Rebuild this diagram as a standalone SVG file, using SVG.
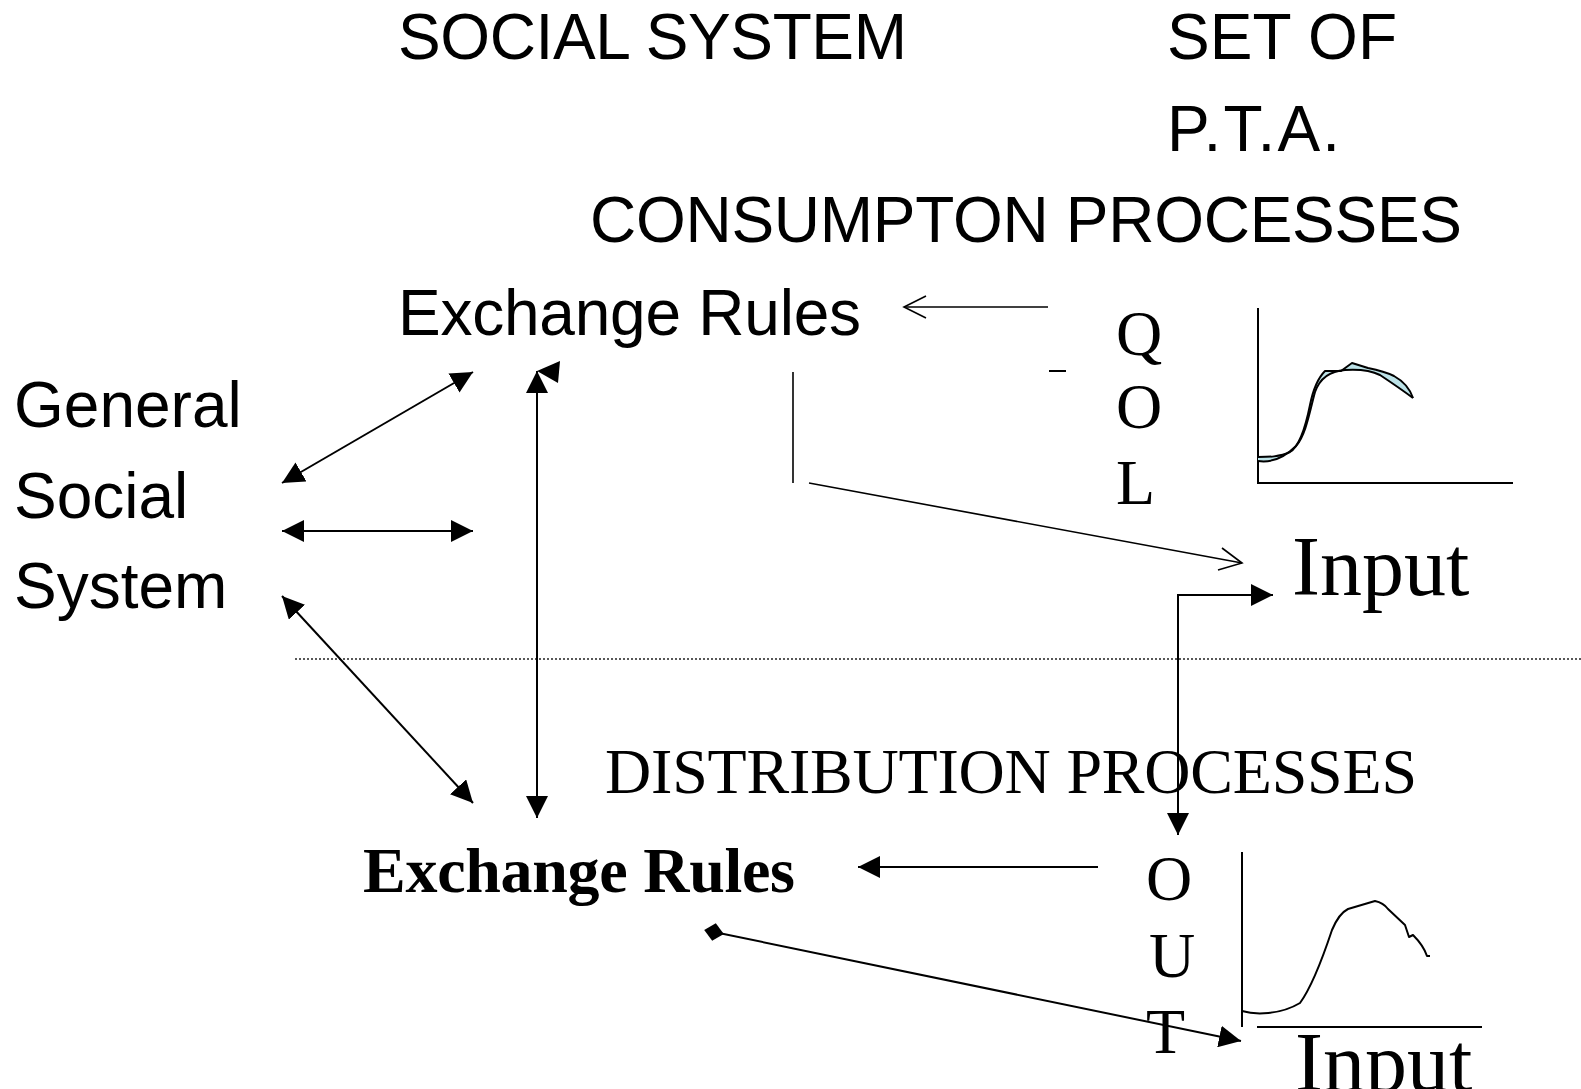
<svg xmlns="http://www.w3.org/2000/svg" width="1581" height="1089" viewBox="0 0 1581 1089">
<style>
.sans{font-family:"Liberation Sans",Arial,sans-serif;font-size:64px;fill:#000}
.serif{font-family:"Liberation Serif","Times New Roman",serif;fill:#000}
.ln{stroke:#000;stroke-width:2;fill:none}
.thin{stroke:#000;stroke-width:1.6;fill:none}
.curve{stroke:#000;stroke-width:2;fill:none;stroke-linejoin:round}
</style>
<defs>
<marker id="tri" markerUnits="userSpaceOnUse" markerWidth="22" markerHeight="22" viewBox="0 0 20 20" refX="20" refY="10" orient="auto-start-reverse">
<path d="M0,0 L20,10 L0,20 Z" fill="#000"/>
</marker>
<marker id="dia" markerUnits="userSpaceOnUse" markerWidth="20" markerHeight="20" viewBox="0 0 20 20" refX="10" refY="10" orient="auto">
<path d="M0,10 L10,1 L20,10 L10,19 Z" fill="#000"/>
</marker>
</defs>

<g id="title-social-system"><text class="sans" x="398" y="59" textLength="509">SOCIAL SYSTEM</text></g>
<g id="title-set-of-pta"><text class="sans" x="1167" y="59">SET OF</text><text class="sans" x="1167" y="151" textLength="173">P.T.A.</text></g>
<g id="consumption-processes"><text class="sans" x="590" y="242" textLength="872">CONSUMPTON PROCESSES</text></g>
<g id="exchange-rules-top"><text class="sans" x="398" y="335" textLength="463">Exchange Rules</text></g>
<g id="general-social-system">
<text class="sans" x="14" y="427">General</text>
<text class="sans" x="14" y="518">Social</text>
<text class="sans" x="14" y="608">System</text>
</g>

<g id="qol-graph">
<text class="serif" font-size="64" x="1116" y="355">Q</text>
<text class="serif" font-size="64" x="1116" y="428">O</text>
<text class="serif" font-size="64" x="1116" y="504">L</text>
<path class="ln" d="M1258,308 L1258,483 L1513,483"/>
<path d="M1258,461 C1272,463 1285,457 1296,446 C1306,435 1310,410 1315,392 C1320,378 1330,371 1345,370 C1360,369 1372,371 1380,375 C1392,383 1405,392 1413,398 C1410,389 1403,381 1394,376 C1386,372 1378,370 1368,368 L1352,363 L1341,371 L1325,371 C1318,378 1313,390 1310,405 C1306,425 1300,446 1290,452 C1280,457 1268,457 1258,457 Z" fill="#bde3e8" stroke="none"/>
<path class="curve" d="M1258,461 C1272,463 1285,457 1296,446 C1306,435 1310,410 1315,392 C1320,378 1330,371 1345,370 C1360,369 1372,371 1380,375 C1392,383 1405,392 1413,398"/>
<path class="curve" d="M1258,457 C1268,457 1280,457 1290,452 C1300,446 1306,425 1310,405 C1313,390 1318,378 1325,371 L1341,371 L1352,363 L1368,368 C1378,370 1386,372 1394,376 C1403,381 1410,389 1413,398"/>
</g>
<g id="input-top"><text class="serif" font-size="84" x="1292" y="595">Input</text></g>

<g id="distribution-processes"><text class="serif" font-size="64" x="605" y="793" textLength="812">DISTRIBUTION PROCESSES</text></g>
<g id="exchange-rules-bottom"><text class="serif" font-size="64" font-weight="bold" x="363" y="892" textLength="432">Exchange Rules</text></g>

<g id="out-graph">
<text class="serif" font-size="64" x="1146" y="900">O</text>
<text class="serif" font-size="64" x="1149" y="977">U</text>
<text class="serif" font-size="64" x="1146" y="1053">T</text>
<path class="ln" d="M1242,852 L1242,1027"/>
<path class="ln" d="M1257,1027 L1482,1027"/>
<path class="curve" d="M1242,1011 C1255,1015 1280,1015 1300,1003 C1311,988 1322,960 1332,930 C1337,918 1342,912 1348,909 L1375,901 C1380,902 1385,905 1388,909 L1405,925 L1409,937 L1413,935 C1418,940 1424,947 1427,956 L1430,956"/>
</g>
<g id="input-bottom"><text class="serif" font-size="84" x="1295" y="1091">Input</text></g>

<g id="connectors">
<line x1="295" y1="659" x2="1581" y2="659" stroke="#222" stroke-width="1.5" stroke-dasharray="2 2"/>
<line class="ln" x1="282" y1="483" x2="473" y2="372" marker-start="url(#tri)" marker-end="url(#tri)"/>
<line class="ln" x1="282" y1="531" x2="473" y2="531" marker-start="url(#tri)" marker-end="url(#tri)"/>
<line class="ln" x1="282" y1="596" x2="473" y2="803" marker-start="url(#tri)" marker-end="url(#tri)"/>
<line class="ln" x1="537" y1="371" x2="537" y2="818" marker-start="url(#tri)" marker-end="url(#tri)"/>
<polygon points="537,371 560,361 558,383" fill="#000"/>
<line class="thin" x1="1048" y1="307" x2="904" y2="307"/>
<polyline class="thin" points="926,296 904,307 926,318"/>
<line class="ln" x1="1049" y1="371" x2="1066" y2="371"/>
<line class="thin" x1="793" y1="372" x2="793" y2="483"/>
<line class="thin" x1="809" y1="483" x2="1242" y2="563"/>
<polyline class="thin" points="1222,548 1242,563 1218,570"/>
<path class="ln" d="M1273,595 L1178,595 L1178,835" marker-start="url(#tri)" marker-end="url(#tri)"/>
<line class="ln" x1="1098" y1="867" x2="858" y2="867" marker-end="url(#tri)"/>
<line class="ln" x1="714" y1="932" x2="1241" y2="1041" marker-start="url(#dia)" marker-end="url(#tri)"/>
</g>
</svg>
